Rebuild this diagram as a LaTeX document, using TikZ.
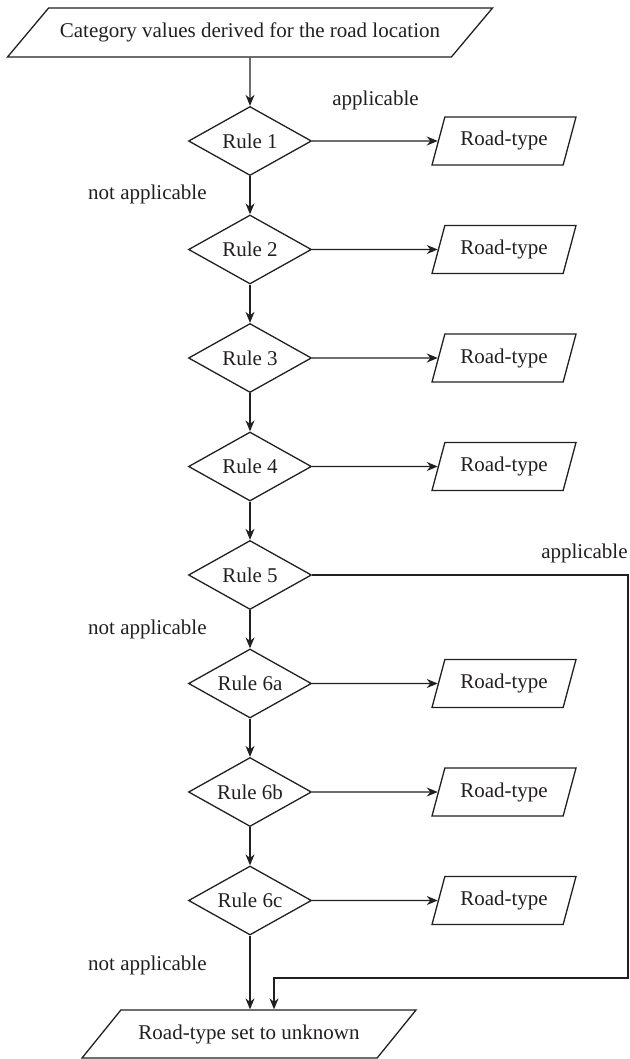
\documentclass[tikz,border=0pt]{standalone}
\usepackage{fontspec}
\setmainfont{Liberation Serif}
\usetikzlibrary{arrows.meta,positioning,shapes.geometric}
\definecolor{fcink}{HTML}{231F20}

\begin{document}
\begin{tikzpicture}[x=0.5pt, y=-0.5pt,
  rule/.style={diamond, draw=fcink, line width=0.65pt, aspect=1.8, inner sep=0pt,
    minimum width=61.5pt, minimum height=34.5pt, text=fcink, font=\fontsize{10.5}{12.6}\selectfont},
  io/.style={trapezium, trapezium left angle=75, trapezium right angle=105, trapezium stretches body,
    draw=fcink, line width=0.65pt, inner xsep=0pt, inner ysep=7pt, text height=7.5pt, text depth=2.5pt,
    minimum width=72pt, text=fcink, font=\fontsize{10.5}{12.6}\selectfont},
  lbl/.style={inner sep=0pt, text=fcink, font=\fontsize{10.5}{12.6}\selectfont},
  arr/.style={draw=fcink, line width=0.65pt, -{Stealth[length=5.5pt, width=4.5pt]}}]
  \useasboundingbox (0,0) rectangle (629,1059);
  \node[io, trapezium left angle=50, trapezium right angle=130, minimum width=242.5pt, inner ysep=7.25pt]
    (start) at (250,32.5) {Category values derived for the road location};
  \foreach \r/\y in {1/141, 2/249.5, 3/358, 4/466.5, 5/575, 6a/683.5, 6b/792, 6c/900.5}
    \node[rule] (r\r) at (250,\y) {Rule \r};
  \foreach \r/\y in {1/141, 2/249.5, 3/358, 4/466.5, 6a/683.5, 6b/792, 6c/900.5}
    \node[io] (t\r) at (504,\y) {Road-type};
  \node[io, trapezium left angle=51, trapezium right angle=129, minimum width=167pt]
    (stop) at (249,1034) {Road-type set to unknown};
  \node[lbl] (app1) at (375.5,100) {applicable};
  \node[lbl, anchor=east] (app5) at (628,553) {applicable};
  \node[lbl, anchor=east] (na1) at (207,194) {not applicable};
  \node[lbl, anchor=east] (na5) at (207,629) {not applicable};
  \node[lbl, anchor=east] (na6c) at (207,965) {not applicable};
  \coordinate (turn) at (628,978);
  \foreach \a/\b in {start/r1, r1/r2, r2/r3, r3/r4, r4/r5, r5/r6a, r6a/r6b, r6b/r6c}
    \draw[arr] (\a) -- (\b);
  \draw[arr] (r6c) -- (r6c |- stop.north);
  \foreach \r in {1,2,3,4,6a,6b,6c}
    \draw[arr] (r\r) -- (t\r);
  \draw[arr] (r5) -| (turn) -| ([xshift=12.5pt]stop.north);
\end{tikzpicture}
\end{document}
